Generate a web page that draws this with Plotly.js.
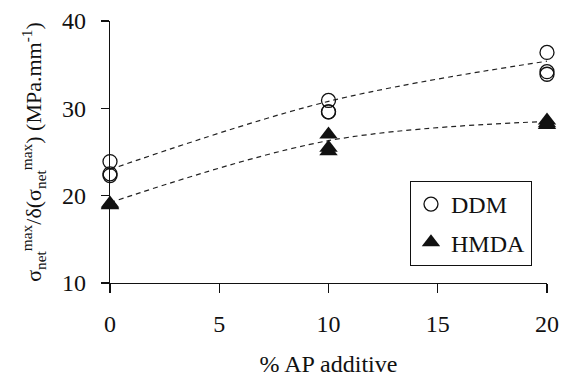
<!DOCTYPE html>
<html>
<head>
<meta charset="utf-8">
<script src="https://cdn.plot.ly/plotly-3.0.1.min.js"></script>
<style>
  html, body { margin: 0; padding: 0; background: #fff; }
  #chart { width: 561px; height: 377px; }
</style>
</head>
<body>
<div id="chart"></div>
<script>
// Additive content (% AP) for each replicate measurement
const apAdditive = [0, 0, 0, 10, 10, 10, 20, 20, 20];
// Measured stiffness ratio, DDM-cured samples
const ddmValues = [23.9, 22.5, 22.3, 30.9, 29.6, 29.6, 36.4, 34.2, 33.9];
// Measured stiffness ratio, HMDA-cured samples
const hmdaValues = [19.0, 18.9, 19.1, 27.0, 25.5, 25.1, 28.6, 28.3, 28.1];
// Trend line levels at 0, 10 and 20 % AP
const trendX = [0, 10, 20];
const ddmTrend = [23.0, 30.8, 35.4];
const hmdaTrend = [19.2, 26.3, 28.5];
const xTicks = [0, 5, 10, 15, 20];
const yTicks = [10, 20, 30, 40];

const serif = 'Liberation Serif';

const trendLine = {width: 1.2, color: '#222', dash: '5px,4px', shape: 'spline'};

const traces = [
  {x: trendX, y: ddmTrend, mode: 'lines', line: trendLine, showlegend: false, hoverinfo: 'skip', cliponaxis: false},
  {x: trendX, y: hmdaTrend, mode: 'lines', line: trendLine, showlegend: false, hoverinfo: 'skip', cliponaxis: false},
  {x: apAdditive, y: ddmValues, mode: 'markers', name: 'DDM', legendgroup: 'a', cliponaxis: false,
   marker: {symbol: 'circle-open', size: 14, color: '#111', line: {width: 1.3, color: '#111'}}},
  {x: apAdditive, y: hmdaValues, mode: 'markers', name: 'HMDA', legendgroup: 'b', cliponaxis: false,
   marker: {symbol: 'triangle-up', size: 16, color: '#111', line: {width: 0}}}
];

const layout = {
  width: 561, height: 377,
  margin: {l: 110, r: 14, t: 21, b: 94},
  paper_bgcolor: '#fff', plot_bgcolor: '#fff',
  font: {family: serif, size: 22, color: '#111'},
  showlegend: true,
  legend: {
    x: 0.686, y: 0.39, xanchor: 'left', yanchor: 'top',
    bordercolor: '#111', borderwidth: 1.2, bgcolor: '#fff',
    font: {family: serif, size: 24, color: '#111'},
    tracegroupgap: 4, itemwidth: 30
  },
  xaxis: {
    range: [0, 20], tickvals: xTicks, ticks: 'outside', ticklen: 9, tickwidth: 1.2, tickcolor: '#111',
    showline: true, linecolor: '#111', linewidth: 1.2, showgrid: false, zeroline: false,
    ticklabelstandoff: 10,
    tickfont: {family: serif, size: 24, color: '#111'},
    title: {text: '% AP additive', font: {family: serif, size: 24, color: '#111'}, standoff: 32}
  },
  yaxis: {
    range: [10, 40], tickvals: yTicks, ticks: 'outside', ticklen: 8, tickwidth: 1.2, tickcolor: '#111',
    showline: true, linecolor: '#111', linewidth: 1.2, showgrid: false, zeroline: false,
    ticklabelstandoff: 10,
    tickfont: {family: serif, size: 24, color: '#111'},
    title: {text: 'σ<sub>net</sub><sup>max</sup>/δ(σ<sub>net</sub><sup>max</sup>) (MPa.mm<sup>-1</sup>)',
            font: {family: serif, size: 22, color: '#111'}, standoff: 14}
  }
};

Plotly.newPlot('chart', traces, layout, {displayModeBar: false, staticPlot: true});
</script>
</body>
</html>
